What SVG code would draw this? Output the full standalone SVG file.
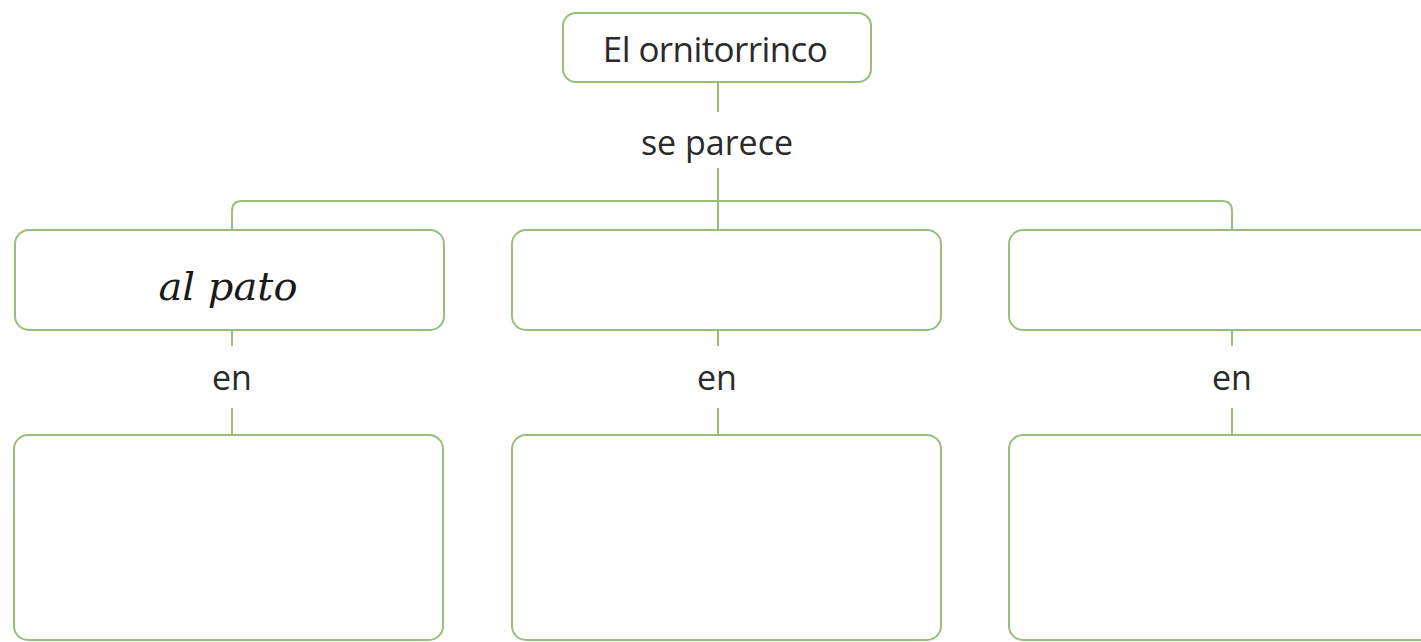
<svg xmlns="http://www.w3.org/2000/svg" width="1421" height="642" viewBox="0 0 1421 642">
<style>
.box{fill:#ffffff;stroke:#96c07a;stroke-width:2}
.ln{fill:none;stroke:#96c07a;stroke-width:2}
.t{font-family:"Open Sans","Noto Sans",sans-serif;font-size:34px;fill:#2a2a2a;text-anchor:middle}
.h{font-size:35px;letter-spacing:-0.6px}
.c{font-family:"DejaVu Serif",serif;font-style:italic;font-size:40px;fill:#1a1a1a;text-anchor:middle}
</style>
<rect width="1421" height="642" fill="#ffffff"/>
<g id="connectors">
<path class="ln" d="M718 82 V112"/>
<path class="ln" d="M718 168 V230"/>
<path class="ln" d="M232 230 V211 Q232 201 242 201 H1222 Q1232 201 1232 211 V230"/>
<path class="ln" d="M232 330 V346 M232 408 V435"/>
<path class="ln" d="M718 330 V346 M718 408 V435"/>
<path class="ln" d="M1232 330 V346 M1232 408 V435"/>
</g>
<g id="top"><rect class="box" x="563" y="13" width="308" height="69" rx="13"/><text class="t h" x="715" y="62">El ornitorrinco</text></g>
<g id="label-separece"><text class="t" x="717" y="155">se parece</text></g>
<g id="a1"><rect class="box" x="15" y="230" width="429" height="100" rx="14"/><text class="c" x="228" y="300">al pato</text></g>
<g id="a2"><rect class="box" x="512" y="230" width="429" height="100" rx="14"/></g>
<g id="a3"><rect class="box" x="1009" y="230" width="440" height="100" rx="14"/></g>
<g id="en1"><text class="t" x="232" y="390">en</text></g>
<g id="en2"><text class="t" x="717" y="390">en</text></g>
<g id="en3"><text class="t" x="1232" y="390">en</text></g>
<g id="b1"><rect class="box" x="14" y="435" width="429" height="205" rx="14"/></g>
<g id="b2"><rect class="box" x="512" y="435" width="429" height="205" rx="14"/></g>
<g id="b3"><rect class="box" x="1009" y="435" width="440" height="205" rx="14"/></g>
</svg>
